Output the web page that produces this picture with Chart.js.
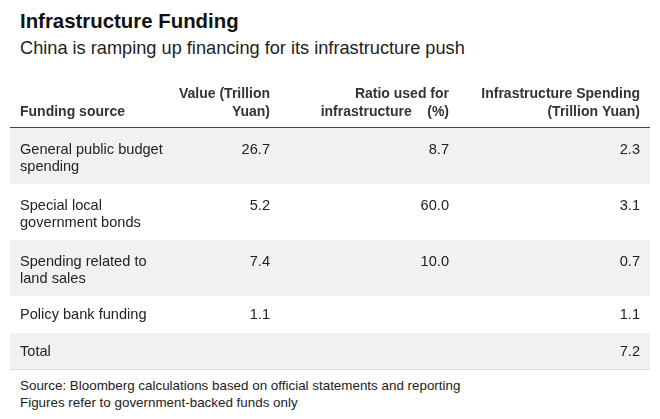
<!DOCTYPE html>
<html><head><meta charset="utf-8">
<script src="https://cdn.jsdelivr.net/npm/chart.js@4/dist/chart.umd.min.js"></script>
<style>
body{margin:0;width:660px;height:419px;background:#fff;font-family:'Liberation Sans',Arial,sans-serif;color:#222;position:relative;overflow:hidden}
#t{position:absolute;left:20px;top:10px;font-size:20.4px;font-weight:700;color:#111}
#s{position:absolute;left:20px;top:38px;font-size:18.2px;color:#222}
#f{position:absolute;left:20px;top:377px;font-size:13.4px;line-height:17px;color:#222}
#wrap{position:absolute;left:0;top:78px;width:660px;height:294px}
</style></head><body>
<div id="t">Infrastructure Funding</div>
<div id="s">China is ramping up financing for its infrastructure push</div>
<div id="wrap"><canvas id="c"></canvas></div>
<div id="f">Source: Bloomberg calculations based on official statements and reporting<br>Figures refer to government-backed funds only</div>
<script>
const headers=[["Funding source"],["Value (Trillion","Yuan)"],["Ratio used for","infrastructure    (%)"],["Infrastructure Spending","(Trillion Yuan)"]];
const categories=[["General public budget","spending"],["Special local","government bonds"],["Spending related to","land sales"],["Policy bank funding"],["Total"]];
const values=["26.7","5.2","7.4","1.1",""];
const ratios=["8.7","60.0","10.0","",""];
const spending=["2.3","3.1","0.7","1.1","7.2"];
const colX=[20,270,449,640];
const FONT="'Liberation Sans', Arial, sans-serif";
const rowH=categories.map(c=>c.length===2?56:37);
let acc=0;const rowStart=rowH.map(h=>{const s=acc;acc+=h;return s;});
const tablePlugin={id:'tbl',afterDraw(ch){
 const ctx=ch.ctx,xs=ch.scales.x,ys=ch.scales.y;
 const L=xs.getPixelForValue(10),R=xs.getPixelForValue(650);
 ctx.save();
 categories.forEach((c,i)=>{
  const y0=ys.getPixelForValue(rowStart[i]),y1=ys.getPixelForValue(rowStart[i]+rowH[i]);
  if(i%2===0){ctx.fillStyle='#f1f1f1';ctx.fillRect(L,y0,R-L,y1-y0);}
 });
 ctx.font='bold 14px '+FONT;ctx.fillStyle='#333';ctx.textBaseline='alphabetic';
 const top=ys.getPixelForValue(0);
 headers.forEach((h,j)=>{
  ctx.textAlign=j===0?'left':'right';
  const n=h.length;
  h.forEach((t,k)=>ctx.fillText(t,xs.getPixelForValue(colX[j]),top-12-(n-1-k)*18));
 });
 ctx.strokeStyle='#444';ctx.lineWidth=1;ctx.beginPath();ctx.moveTo(L,top-0.5);ctx.lineTo(R,top-0.5);ctx.stroke();
 ctx.font='14.6px '+FONT;ctx.fillStyle='#222';ctx.textBaseline='middle';
 categories.forEach((c,i)=>{
  const y0=ys.getPixelForValue(rowStart[i]);
  const fy=c.length===2?y0+22:ys.getPixelForValue(rowStart[i]+rowH[i]/2);
  ctx.textAlign='left';
  c.forEach((t,k)=>ctx.fillText(t,xs.getPixelForValue(colX[0]),fy+k*17));
  ctx.textAlign='right';
  [values[i],ratios[i],spending[i]].forEach((v,j)=>ctx.fillText(v,xs.getPixelForValue(colX[j+1]),fy));
 });
 const bot=ys.getPixelForValue(acc);
 ctx.strokeStyle='#ddd';ctx.beginPath();ctx.moveTo(L,bot-0.5);ctx.lineTo(R,bot-0.5);ctx.stroke();
 ctx.restore();
}};
new Chart(document.getElementById('c'),{type:'scatter',
 data:{datasets:[{data:[],pointRadius:0}]},
 options:{responsive:true,maintainAspectRatio:false,animation:false,
  layout:{padding:{top:50,bottom:2,left:0,right:0}},
  plugins:{legend:{display:false},tooltip:{enabled:false}},
  scales:{x:{type:'linear',min:0,max:660,display:false},y:{type:'linear',min:0,max:acc,reverse:true,display:false}}},
 plugins:[tablePlugin]});
</script></body></html>
